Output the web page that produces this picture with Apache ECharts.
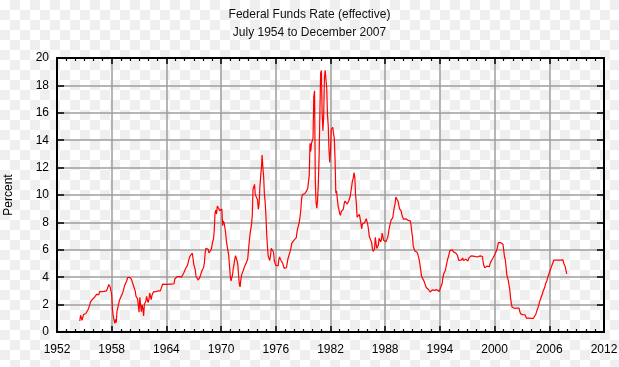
<!DOCTYPE html>
<html><head><meta charset="utf-8">
<script src="https://cdn.jsdelivr.net/npm/echarts@6/dist/echarts.min.js"></script>
<style>
html,body{margin:0;padding:0;}
body{width:619px;height:367px;background-color:#fff;
background-image:repeating-conic-gradient(#efefef 0% 25%, #ffffff 0% 50%);
background-size:20px 20px;background-position:0 0;}
#c{width:619px;height:367px;}
</style></head><body><div id="c"></div>
<script>
var titleLines = ["Federal Funds Rate (effective)", "July 1954 to December 2007"];
var yAxisName = "Percent";
var startYear = 1954, startMonth = 7;
// Monthly effective rate, percent
var rate1950s = [0.80,1.22,1.06,0.85,0.83,1.28,
1.39,1.29,1.35,1.43,1.43,1.64,1.68,1.96,2.18,2.24,2.35,2.48,
2.45,2.50,2.50,2.62,2.75,2.71,2.75,2.73,2.95,2.96,2.88,2.94,
2.84,3.00,2.96,3.00,3.00,3.00,2.99,3.24,3.47,3.50,3.28,2.98,
2.72,1.67,1.20,1.26,0.63,0.93,0.68,1.53,1.76,1.80,2.27,2.42,
2.48,2.43,2.80,2.96,2.90,3.39,3.47,3.50,3.76,3.98,4.00,3.99];
var rate1960s = [3.99,3.97,3.84,3.92,3.85,3.32,3.23,2.98,2.60,2.47,2.44,1.98,
1.45,2.54,2.02,1.49,1.98,1.73,1.17,2.00,1.88,2.26,2.61,2.33,
2.15,2.37,2.85,2.78,2.36,2.68,2.71,2.93,2.90,2.90,2.94,2.93,
2.92,3.00,2.98,2.90,3.00,2.99,3.02,3.49,3.48,3.50,3.48,3.38,
3.48,3.48,3.43,3.47,3.50,3.50,3.42,3.50,3.45,3.36,3.52,3.85,
3.90,3.98,4.04,4.09,4.10,4.04,4.09,4.12,4.01,4.08,4.10,4.32,
4.42,4.60,4.65,4.67,4.90,5.17,5.30,5.53,5.40,5.53,5.76,5.40,
4.94,5.00,4.53,4.05,3.94,3.98,3.79,3.90,3.99,3.88,4.13,4.51,
4.61,4.71,5.05,5.76,6.11,6.07,6.02,6.03,5.78,5.91,5.82,6.02,
6.30,6.61,6.79,7.41,8.67,8.90,8.61,9.19,9.15,9.00,8.85,8.97];
var rate1970s = [8.98,8.98,7.76,8.10,7.95,7.61,7.21,6.61,6.29,6.20,5.60,4.90,
4.14,3.72,3.71,4.16,4.63,4.91,5.31,5.57,5.55,5.20,4.91,4.14,
3.50,3.29,3.83,4.17,4.27,4.46,4.55,4.80,4.87,5.04,5.06,5.33,
5.94,6.58,7.09,7.12,7.84,8.49,10.40,10.50,10.78,10.01,10.03,9.95,
9.65,8.97,9.35,10.51,11.31,11.93,12.92,12.01,11.34,10.06,9.45,8.53,
7.13,6.24,5.54,5.49,5.22,5.55,6.10,6.14,6.24,5.82,5.22,5.20,
4.87,4.77,4.84,4.82,5.29,5.48,5.31,5.29,5.25,5.02,4.95,4.65,
4.61,4.68,4.69,4.73,5.35,5.39,5.42,5.90,6.14,6.47,6.51,6.56,
6.70,6.78,6.79,6.89,7.36,7.60,7.81,8.04,8.45,8.96,9.76,10.03,
10.07,10.06,10.09,10.01,10.24,10.29,10.47,10.94,11.43,13.77,13.18,13.78];
var rate1980s = [13.82,14.13,17.19,17.61,10.98,9.47,9.03,9.61,10.87,12.81,15.85,18.90,
19.08,15.93,14.70,15.72,18.52,19.10,19.04,17.82,15.87,15.08,13.31,12.37,
13.22,14.78,14.68,14.94,14.45,14.15,12.59,10.12,10.31,9.71,9.20,8.95,
8.68,8.51,8.77,8.80,8.63,8.98,9.37,9.56,9.45,9.48,9.34,9.47,
9.56,9.59,9.91,10.29,10.32,11.06,11.23,11.64,11.30,9.99,9.43,8.38,
8.35,8.50,8.58,8.27,7.97,7.53,7.88,7.90,7.92,7.99,8.05,8.27,
8.14,7.86,7.48,6.99,6.85,6.92,6.56,6.17,5.89,5.85,6.04,6.91,
6.43,6.10,6.13,6.37,6.85,6.73,6.58,6.73,7.22,7.29,6.69,6.77,
6.83,6.58,6.58,6.87,7.09,7.51,7.75,8.01,8.19,8.30,8.35,8.76,
9.12,9.36,9.85,9.84,9.81,9.53,9.24,8.99,9.02,8.84,8.55,8.45];
var rate1990s = [8.23,8.24,8.28,8.26,8.18,8.29,8.15,8.13,8.20,8.11,7.81,7.31,
6.91,6.25,6.12,5.91,5.78,5.90,5.82,5.66,5.45,5.21,4.81,4.43,
4.03,4.06,3.98,3.73,3.82,3.76,3.25,3.30,3.22,3.10,3.09,2.92,
3.02,3.03,3.07,2.96,3.00,3.04,3.06,3.03,3.09,2.99,3.02,2.96,
3.05,3.25,3.34,3.56,4.01,4.25,4.26,4.47,4.73,4.76,5.29,5.45,
5.53,5.92,5.98,6.05,6.01,6.00,5.85,5.74,5.80,5.76,5.80,5.60,
5.56,5.22,5.31,5.22,5.24,5.27,5.40,5.22,5.30,5.24,5.31,5.29,
5.25,5.19,5.39,5.51,5.50,5.56,5.52,5.54,5.54,5.50,5.52,5.50,
5.56,5.51,5.49,5.45,5.49,5.56,5.54,5.55,5.51,5.07,4.83,4.68,
4.63,4.76,4.81,4.74,4.74,4.76,4.99,5.07,5.22,5.20,5.42,5.30];
var rate2000s = [5.45,5.73,5.85,6.02,6.27,6.53,6.54,6.50,6.52,6.51,6.51,6.40,
5.98,5.49,5.31,4.80,4.21,3.97,3.77,3.65,3.07,2.49,2.09,1.82,
1.73,1.74,1.73,1.75,1.75,1.75,1.73,1.74,1.75,1.75,1.34,1.24,
1.24,1.26,1.25,1.26,1.26,1.22,1.01,1.03,1.01,1.01,1.00,0.98,
1.00,1.01,1.00,1.00,1.00,1.03,1.26,1.43,1.61,1.76,1.93,2.16,
2.28,2.50,2.63,2.79,3.00,3.04,3.26,3.50,3.62,3.78,4.00,4.16,
4.29,4.49,4.59,4.79,4.94,4.99,5.24,5.25,5.25,5.25,5.25,5.24,
5.25,5.26,5.26,5.25,5.25,5.25,5.26,5.02,4.94,4.76,4.49,4.24];
var xTicks = [1952,1958,1964,1970,1976,1982,1988,1994,2000,2006,2012];
var yTicks = [0,2,4,6,8,10,12,14,16,18,20];

var allRates = [].concat(rate1950s, rate1960s, rate1970s, rate1980s, rate1990s, rate2000s);
var data = allRates.map(function(v, i){
  var m = startMonth - 1 + i;
  return [startYear + m / 12, v];
});

var chart = echarts.init(document.getElementById('c'), null, {renderer:'canvas'});
var font = 'Liberation Sans, Arial, Helvetica, sans-serif';
var gridLine = {show:true, lineStyle:{color:'#9e9e9e', width:1.5}};
function xa(pos, labels){
  return {type:'value', position:pos, min:xTicks[0], max:xTicks[xTicks.length-1], interval:6,
    axisLine:{show:true, onZero:false, lineStyle:{color:'#000', width:2}},
    axisTick:{show:true, inside:true, length:6, lineStyle:{color:'#000', width:1.5}},
    minorTick:{show:true, splitNumber:6, length:3, lineStyle:{color:'#000', width:1.2}},
    axisLabel:{show:labels, color:'#000', fontSize:12, fontFamily:font, margin:12,
      formatter:function(v){return String(v);}},
    splitLine: labels ? gridLine : {show:false}};
}
function ya(pos, labels){
  return {type:'value', position:pos, min:yTicks[0], max:yTicks[yTicks.length-1], interval:2,
    name: labels ? yAxisName : '', nameLocation:'middle', nameGap:42, nameRotate:90,
    nameTextStyle:{color:'#000', fontSize:12, fontFamily:font},
    axisLine:{show:true, onZero:false, lineStyle:{color:'#000', width:2}},
    axisTick:{show:true, inside:true, length:7, lineStyle:{color:'#000', width:1.5}},
    axisLabel:{show:labels, color:'#000', fontSize:12, fontFamily:font, margin:8,
      formatter:function(v){return String(v);}},
    splitLine: labels ? gridLine : {show:false}};
}
chart.setOption({
  animation:false,
  backgroundColor:'transparent',
  title:{text:titleLines.join('\n'), left:'center', top:1,
    textStyle:{color:'#111', fontSize:12, fontWeight:'normal', fontFamily:font, lineHeight:18}},
  grid:{left:57, right:15, top:58, bottom:35, outerBoundsMode:'none', containLabel:false},
  xAxis:[xa('bottom', true), xa('top', false)],
  yAxis:[ya('left', true), ya('right', false)],
  series:[{type:'line', data:data, showSymbol:false, symbol:'none',
    lineStyle:{color:'#ff0000', width:1.2}, xAxisIndex:0, yAxisIndex:0}]
});
</script></body></html>
